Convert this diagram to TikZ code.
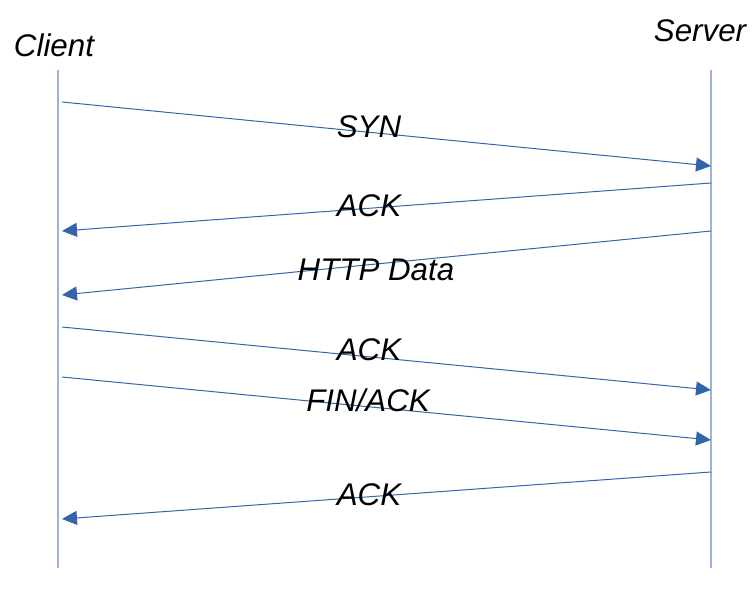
\documentclass[tikz,border=0pt]{standalone}
\usepackage{fontspec}
\setmainfont{Liberation Sans}
\usetikzlibrary{arrows.meta}
\definecolor{lifeblue}{HTML}{9DB3D8}
\definecolor{msgblue}{HTML}{3465A8}
\tikzset{
  msg/.style={draw=msgblue, line width=1pt, -{Triangle[length=15pt,width=14pt]}},
  lbl/.style={inner sep=0pt, font=\fontsize{31.3}{36}\selectfont\itshape}
}
\begin{document}
\begin{tikzpicture}[x=1pt, y=-1pt]
    \useasboundingbox (0,0) rectangle (754,593);
    % life lines
    \draw[lifeblue, line width=1.5pt] (58,70) -- (58,568);
    \draw[lifeblue, line width=1.5pt] (711,70) -- (711,568);
    \node[lbl] (client) at (54,45) {Client};
    \node[lbl] (server) at (700,31) {Server};
    % message end points
    \coordinate (c1) at (62,102);  \coordinate (s1) at (711,166);
    \coordinate (s2) at (711,183); \coordinate (c2) at (62,231);
    \coordinate (s3) at (711,231); \coordinate (c3) at (62,295);
    \coordinate (c4) at (62,327);  \coordinate (s4) at (711,390);
    \coordinate (c5) at (62,377);  \coordinate (s5) at (711,440);
    \coordinate (s6) at (711,472); \coordinate (c6) at (62,519);
    % messages
    \draw[msg] (c1) -- (s1);
    \draw[msg] (s2) -- (c2);
    \draw[msg] (s3) -- (c3);
    \draw[msg] (c4) -- (s4);
    \draw[msg] (c5) -- (s5);
    \draw[msg] (s6) -- (c6);
    \node[lbl] (syn) at (369,127) {SYN};
    \node[lbl] (ack1) at (369,206) {ACK};
    \node[lbl] (data) at (376,270) {HTTP Data};
    \node[lbl] (ack2) at (369,350) {ACK};
    \node[lbl] (fin) at (368,400) {FIN/ACK};
    \node[lbl] (ack3) at (369,495) {ACK};
  \end{tikzpicture}
\end{document}
